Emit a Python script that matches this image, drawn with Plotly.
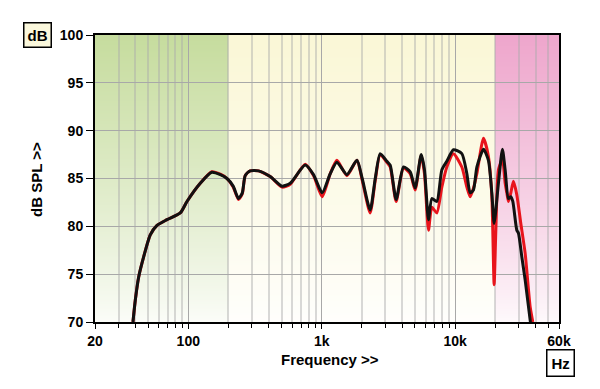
import base64, struct, zlib
import numpy as np
import plotly.graph_objects as go

# ---------------- data ----------------
freq_black = [38.5, 40.1, 42.5, 46.3, 51.9, 58.3, 69.3, 87.1, 97.8, 123, 150, 174, 195, 217, 238,
              254, 267, 291, 336, 411, 504, 581, 752, 868, 1008, 1158, 1300, 1545, 1836, 2011,
              2307, 2518, 2742, 3076, 3260, 3612, 4100, 4603, 5012, 5565, 5890, 6310, 6690,
              7290, 7945, 8660, 9710, 11220, 12240, 12950, 13710, 14540, 16300, 17750, 18830,
              19590, 21100, 22600, 23700, 25070, 26130, 27040, 28970, 29790, 31600, 33450,
              36470, 37100]
spl_black = [70.0, 72.3, 74.7, 76.8, 79.1, 80.1, 80.7, 81.4, 82.6, 84.5, 85.65, 85.4, 85.0, 84.2, 82.9,
             83.5, 85.3, 85.8, 85.8, 85.2, 84.2, 84.5, 86.4, 85.4, 83.5, 85.5, 86.7, 85.4, 86.9, 85.0,
             81.7, 85.0, 87.6, 86.8, 86.4, 82.8, 86.2, 85.7, 84.0, 87.5, 85.9, 80.7, 82.9,
             82.6, 85.9, 86.8, 88.0, 87.6, 85.5, 83.5, 83.8, 86.2, 88.05, 86.9, 83.5,
             80.3, 84.5, 88.05, 85.9, 82.9, 83.1, 82.6, 79.6, 79.3, 76.8, 74.4,
             70.2, 69.5]

freq_red = [38.5, 40.1, 42.5, 46.3, 51.9, 58.3, 69.3, 87.1, 97.8, 123, 150, 174, 195, 217, 238,
            254, 267, 291, 336, 411, 504, 581, 752, 868, 1008, 1158, 1300, 1545, 1836, 2011,
            2307, 2518, 2742, 3076, 3260, 3612, 4100, 4603, 5012, 5565, 5890, 6310, 6690,
            7290, 7945, 8660, 9710, 11220, 12240, 12950, 13710, 14540, 16300, 17750, 18830,
            19590, 20180, 21100, 22600, 23700, 24380, 25070, 26130, 27350, 28970, 31050,
            33450, 36470, 38200]
spl_red = [70.0, 72.3, 74.7, 76.8, 79.1, 80.1, 80.7, 81.4, 82.6, 84.5, 85.7, 85.45, 85.0, 84.1, 82.8,
           83.4, 85.3, 85.8, 85.8, 85.2, 84.1, 84.4, 86.5, 85.3, 83.1, 85.5, 86.9, 85.3, 86.9, 84.8,
           81.4, 84.8, 87.5, 86.7, 86.2, 82.6, 86.1, 85.5, 83.8, 87.4, 85.5, 79.6, 82.0,
           81.4, 84.1, 86.2, 87.6, 86.2, 84.1, 83.1, 84.0, 85.5, 89.2, 87.3, 83.1,
           73.9, 79.6, 85.9, 87.0, 84.5, 83.5, 82.6, 83.5, 84.7, 83.3, 80.3,
           77.2, 71.6, 70.0]

x_tick_vals = [20, 100, 1000, 10000, 60000]
x_tick_text = ["20", "100", "1k", "10k", "60k"]
x_minor_vals = [30, 40, 50, 60, 70, 80, 90, 200, 300, 400, 500, 600, 700, 800, 900,
                2000, 3000, 4000, 5000, 6000, 7000, 8000, 9000, 20000, 30000, 40000, 50000]
y_tick_vals = [70, 75, 80, 85, 90, 95, 100]

# background bands: (start Hz, end Hz, top colour)
bands = [(20, 200, (198, 220, 158)), (200, 20000, (250, 247, 214)), (20000, 60000, (238, 166, 204))]

X0, X1 = np.log10(20), np.log10(60000)

# ---------------- gradient background as PNG ----------------
W, H = 1200, 300
def band_color(fx):
    f = 10 ** (X0 + fx * (X1 - X0))
    for a, b, c in bands:
        if a <= f <= b:
            return c
    return bands[-1][2]

cols = [band_color((i + 0.5) / W) for i in range(W)]
raw = bytearray()
for r in range(H):
    t = 1 - r / (H - 1)          # 1 at top, 0 at bottom
    g = 0.06 + 0.94 * t ** 0.85
    raw.append(0)
    for c in cols:
        raw += bytes(int(round(255 + (ch - 255) * g)) for ch in c)

def chunk(tag, data):
    return struct.pack(">I", len(data)) + tag + data + struct.pack(">I", zlib.crc32(tag + data) & 0xffffffff)

png = b"\x89PNG\r\n\x1a\n" + chunk(b"IHDR", struct.pack(">IIBBBBB", W, H, 8, 2, 0, 0, 0)) \
      + chunk(b"IDAT", zlib.compress(bytes(raw), 9)) + chunk(b"IEND", b"")
img_uri = "data:image/png;base64," + base64.b64encode(png).decode()

# ---------------- figure ----------------
FONT = "Liberation Sans, Arial, sans-serif"
fig = go.Figure()
fig.add_trace(go.Scatter(x=freq_red, y=spl_red, mode="lines",
                         line=dict(color="#e8141c", width=3, shape="spline", smoothing=0.6),
                         hoverinfo="skip", showlegend=False))
fig.add_trace(go.Scatter(x=freq_black, y=spl_black, mode="lines",
                         line=dict(color="#111111", width=3, shape="spline", smoothing=0.6),
                         hoverinfo="skip", showlegend=False))

fig.add_layout_image(dict(source=img_uri, xref="paper", yref="paper", x=0, y=1, sizex=1, sizey=1,
                          xanchor="left", yanchor="top", sizing="stretch", layer="below"))

# the page body has an 8px margin, so the figure is 8px smaller than the window
fig.update_layout(
    width=592, height=381,
    margin=dict(l=87, r=41, t=27, b=67),
    paper_bgcolor="white", plot_bgcolor="rgba(0,0,0,0)",
    font=dict(family=FONT, size=14, color="black"),
    showlegend=False,
)
fig.update_xaxes(type="log", range=[X0, X1],
                 tickmode="array", tickvals=x_tick_vals, ticktext=x_tick_text,
                 tickfont=dict(family=FONT, size=14, weight="bold"),
                 ticks="outside", ticklen=5, tickwidth=1, tickcolor="black",
                 showgrid=True, gridcolor="#a8a8a8", gridwidth=1,
                 minor=dict(tickmode="array", tickvals=x_minor_vals, ticks="outside", ticklen=4,
                            tickcolor="black", showgrid=True, gridcolor="rgba(170,170,170,0.45)", gridwidth=1.5),
                 showline=True, linecolor="black", linewidth=2, mirror=True, zeroline=False)
fig.update_yaxes(range=[70, 100], tickmode="array", tickvals=y_tick_vals,
                 tickfont=dict(family=FONT, size=14, weight="bold"),
                 ticks="outside", ticklen=7, tickwidth=1, tickcolor="black",
                 showgrid=True, gridcolor="#a8a8a8", gridwidth=1,
                 showline=True, linecolor="black", linewidth=2, mirror=True, zeroline=False)

def px2paper(px, py):
    return (px - 95) / 464.0, (322 - py) / 287.0

ann = dict(xref="paper", yref="paper", xanchor="center", yanchor="middle", showarrow=False)
x, y = px2paper(330, 359)
fig.add_annotation(text="Frequency >>", x=x, y=y, font=dict(family=FONT, size=15, weight="bold"), **ann)
x, y = px2paper(36, 180)
fig.add_annotation(text="dB SPL >>", x=x, y=y, textangle=-90, font=dict(family=FONT, size=15, weight="bold"), **ann)
x, y = px2paper(37, 35)
fig.add_annotation(text="dB", x=x, y=y, font=dict(family=FONT, size=15, weight="bold"),
                   bgcolor="#fbf8dc", bordercolor="black", borderwidth=1.5, borderpad=3, **ann)
x, y = px2paper(560, 363)
fig.add_annotation(text="Hz", x=x, y=y, font=dict(family=FONT, size=15, weight="bold"),
                   bgcolor="white", bordercolor="black", borderwidth=1.5, borderpad=4, **ann)

fig.write_html("out.html")
